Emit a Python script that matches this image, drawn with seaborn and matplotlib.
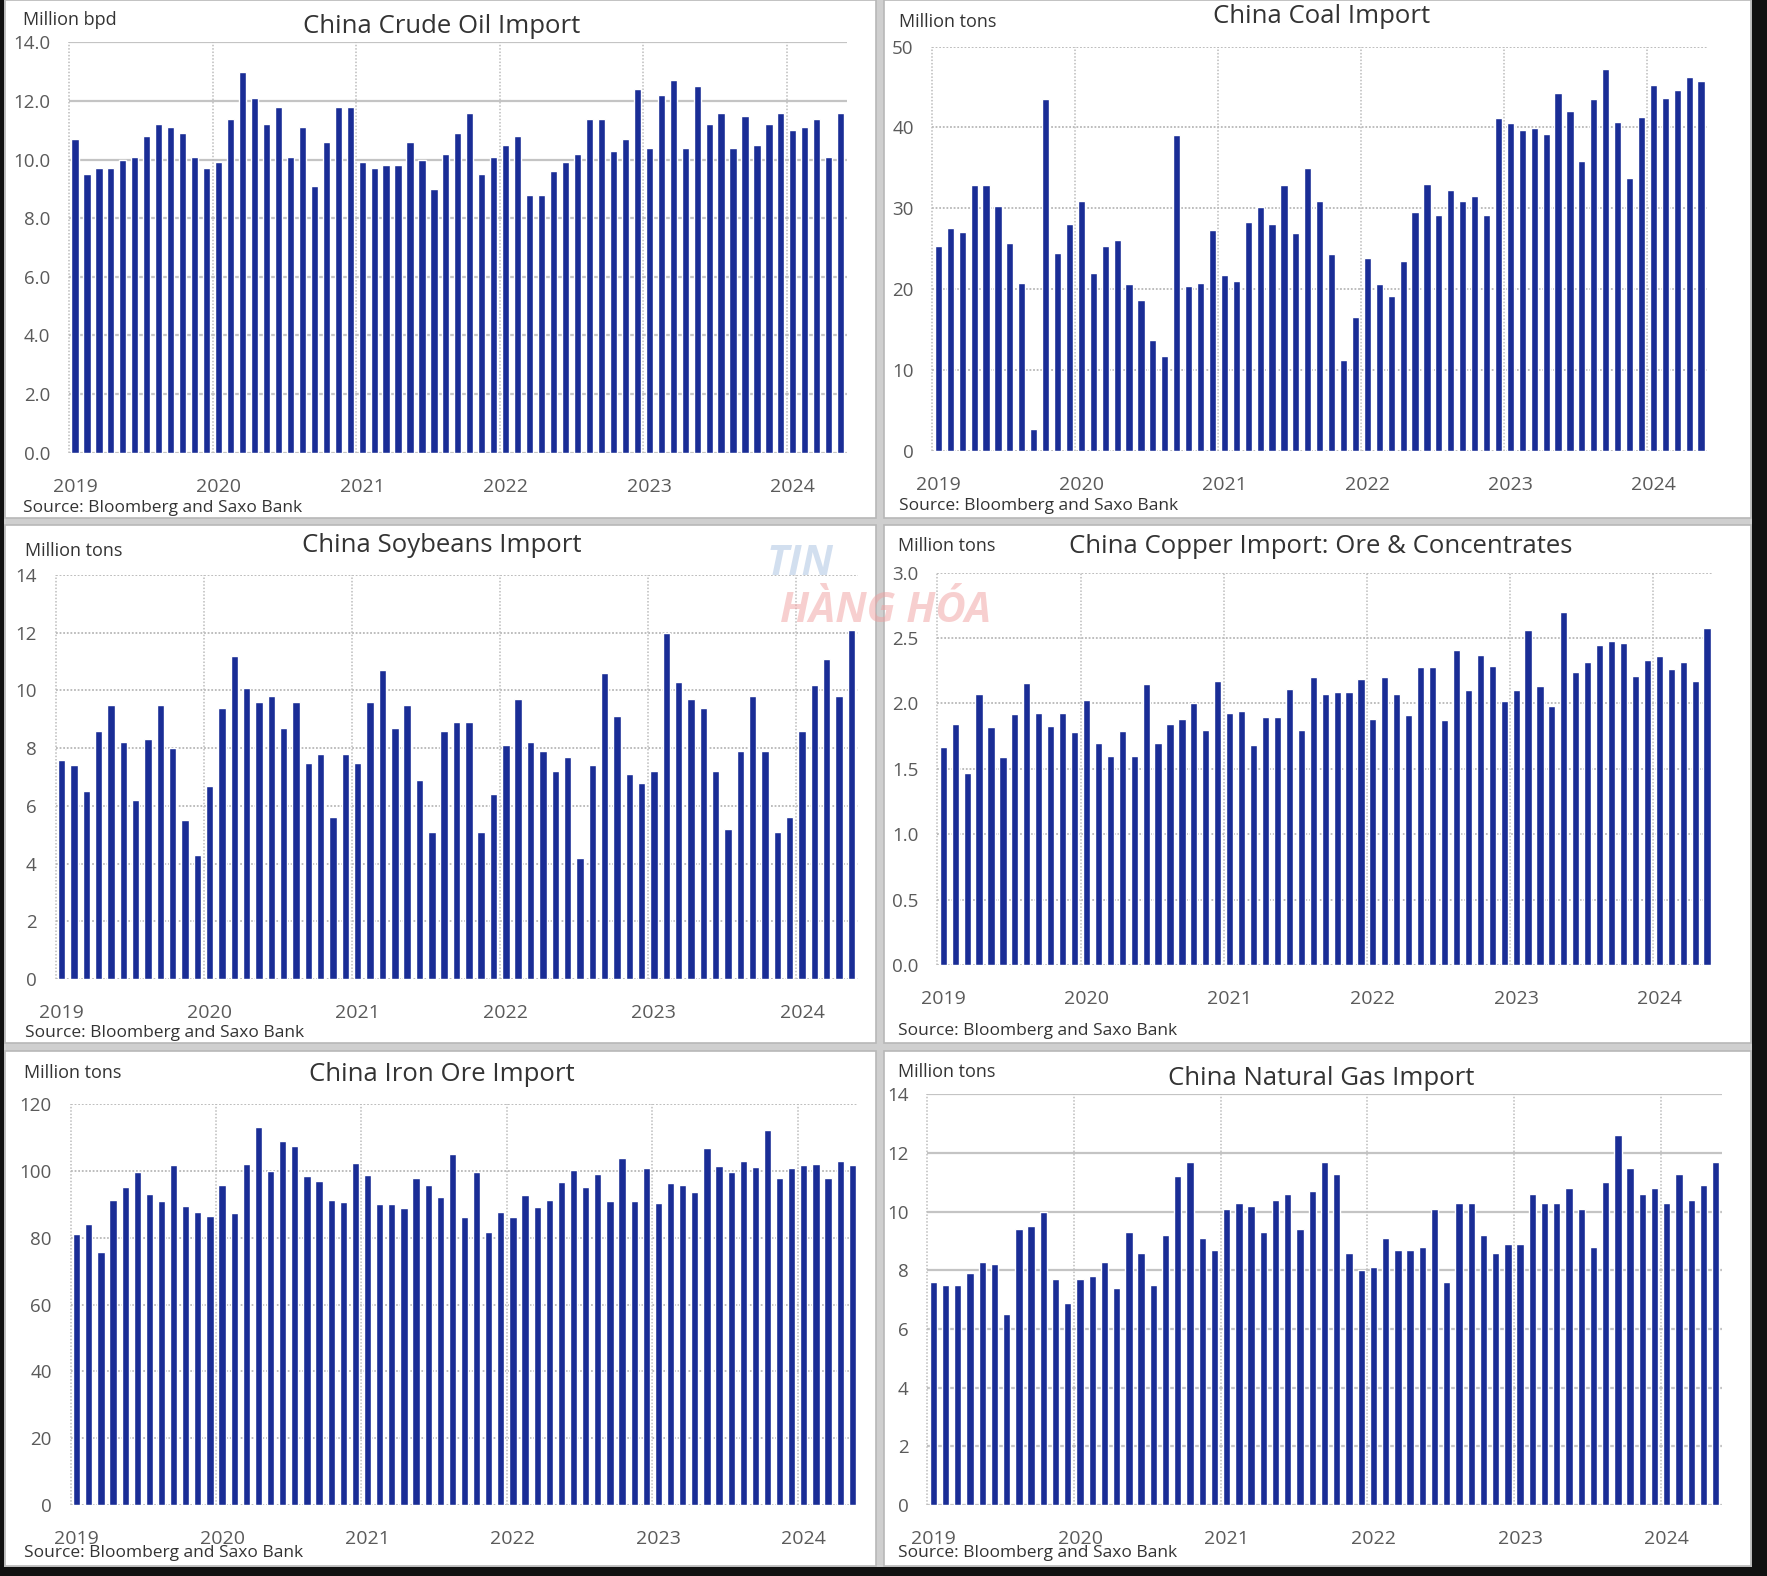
import matplotlib
matplotlib.use("Agg")
import matplotlib.pyplot as plt
import numpy as np
import pandas as pd
import seaborn as sns
from matplotlib.patches import Rectangle

W, H = 1767, 1576
BAR = "#1a2d96"
TEXT = "#333333"
TICK = "#5a5a5a"

# monthly categories Jan 2019 .. May 2024
MONTHS = pd.period_range("2019-01", "2024-05", freq="M").strftime("%Y-%m").tolist()
YEARS = ["2019", "2020", "2021", "2022", "2023", "2024"]
SOURCE = "Source: Bloomberg and Saxo Bank"

CRUDE = [10.7, 9.5, 9.7, 9.7, 10.0, 10.1, 10.8, 11.2, 11.1, 10.9, 10.1, 9.7,
         9.9, 11.4, 13.0, 12.1, 11.2, 11.8, 10.1, 11.1, 9.1, 10.6, 11.8, 11.8,
         9.9, 9.7, 9.8, 9.8, 10.6, 10.0, 9.0, 10.2, 10.9, 11.6, 9.5, 10.1,
         10.5, 10.8, 8.8, 8.8, 9.6, 9.9, 10.2, 11.4, 11.4, 10.3, 10.7, 12.4,
         10.4, 12.2, 12.7, 10.4, 12.5, 11.2, 11.6, 10.4, 11.5, 10.5, 11.2, 11.6,
         11.0, 11.1, 11.4, 10.1, 11.6]

COAL = [25.3, 27.5, 27.1, 32.9, 32.9, 30.3, 25.7, 20.7, 2.7, 43.5, 24.5, 28.0,
        30.9, 22.0, 25.3, 26.1, 20.6, 18.7, 13.7, 11.7, 39.1, 20.4, 20.7, 27.3,
        21.7, 21.0, 28.3, 30.2, 28.1, 32.9, 26.9, 35.0, 30.9, 24.4, 11.2, 16.5,
        23.8, 20.6, 19.1, 23.5, 29.5, 33.0, 29.2, 32.3, 30.9, 31.5, 29.2, 41.2,
        40.6, 39.7, 39.9, 39.2, 44.3, 42.0, 35.9, 43.5, 47.3, 40.7, 33.7, 41.3,
        45.2, 43.7, 44.6, 46.2, 45.8]

SOYBEANS = [7.6, 7.4, 6.5, 8.6, 9.5, 8.2, 6.2, 8.3, 9.5, 8.0, 5.5, 4.3,
            6.7, 9.4, 11.2, 10.1, 9.6, 9.8, 8.7, 9.6, 7.5, 7.8, 5.6, 7.8,
            7.5, 9.6, 10.7, 8.7, 9.5, 6.9, 5.1, 8.6, 8.9, 8.9, 5.1, 6.4,
            8.1, 9.7, 8.2, 7.9, 7.2, 7.7, 4.2, 7.4, 10.6, 9.1, 7.1, 6.8,
            7.2, 12.0, 10.3, 9.7, 9.4, 7.2, 5.2, 7.9, 9.8, 7.9, 5.1, 5.6,
            8.6, 10.2, 11.1, 9.8, 12.1]

COPPER = [1.67, 1.84, 1.47, 2.07, 1.82, 1.59, 1.92, 2.16, 1.93, 1.83, 1.93, 1.78,
          2.03, 1.70, 1.60, 1.79, 1.60, 2.15, 1.70, 1.84, 1.88, 2.00, 1.80, 2.17,
          1.93, 1.94, 1.68, 1.90, 1.90, 2.11, 1.80, 2.20, 2.07, 2.09, 2.09, 2.19,
          1.88, 2.20, 2.07, 1.91, 2.28, 2.28, 1.87, 2.41, 2.10, 2.37, 2.29, 2.02,
          2.10, 2.56, 2.13, 1.98, 2.70, 2.24, 2.32, 2.45, 2.48, 2.46, 2.21, 2.33,
          2.36, 2.26, 2.32, 2.17, 2.58]

IRON_ORE = [81.1, 84.1, 75.6, 91.3, 95.3, 99.6, 93.1, 91.0, 101.6, 89.6, 87.6, 86.4,
            95.8, 87.4, 102.0, 113.0, 99.9, 109.0, 107.3, 98.6, 97.1, 91.3, 90.6, 102.3,
            98.8, 90.1, 90.1, 89.0, 97.8, 95.8, 92.1, 105.0, 86.2, 99.8, 81.6, 87.6,
            86.2, 92.8, 89.3, 91.3, 96.6, 100.1, 95.3, 99.1, 91.0, 103.8, 91.0, 100.8,
            90.5, 96.5, 95.8, 93.6, 106.8, 101.3, 99.6, 103.0, 101.0, 112.3, 97.8, 100.8,
            101.8, 102.1, 97.8, 103.0, 101.6]

NAT_GAS = [7.6, 7.5, 7.5, 7.9, 8.3, 8.2, 6.5, 9.4, 9.5, 10.0, 7.7, 6.9,
           7.7, 7.8, 8.3, 7.4, 9.3, 8.6, 7.5, 9.2, 11.2, 11.7, 9.1, 8.7,
           10.1, 10.3, 10.2, 9.3, 10.4, 10.6, 9.4, 10.7, 11.7, 11.3, 8.6, 8.0,
           8.1, 9.1, 8.7, 8.7, 8.8, 10.1, 7.6, 10.3, 10.3, 9.2, 8.6, 8.9,
           8.9, 10.6, 10.3, 10.3, 10.8, 10.1, 8.8, 11.0, 12.6, 11.5, 10.6, 10.8,
           10.3, 11.3, 10.4, 10.9, 11.7]

# layout in pixels (x0, x1, y_top, y_bottom of plotting area)
PANELS = [
    dict(title="China Crude Oil Import", unit="Million bpd", values=CRUDE,
         ymax=14, step=2, fmt="{:.1f}", solid=True,
         box=(69, 846.7, 42.3, 452.7), title_xy=(442, 33), unit_xy=(23, 25), src_y=512),
    dict(title="China Coal Import", unit="Million tons", values=COAL,
         ymax=50, step=10, fmt="{:.0f}", solid=False,
         box=(932.4, 1707, 46.7, 450.7), title_xy=(1322, 23), unit_xy=(899, 27), src_y=510),
    dict(title="China Soybeans Import", unit="Million tons", values=SOYBEANS,
         ymax=14, step=2, fmt="{:.0f}", solid=False,
         box=(55.5, 857.5, 575, 979), title_xy=(442, 552), unit_xy=(25, 556), src_y=1037),
    dict(title="China Copper Import: Ore & Concentrates", unit="Million tons", values=COPPER,
         ymax=3.0, step=0.5, fmt="{:.1f}", solid=False,
         box=(937.3, 1713, 572.7, 965), title_xy=(1321, 553), unit_xy=(898, 551), src_y=1035),
    dict(title="China Iron Ore Import", unit="Million tons", values=IRON_ORE,
         ymax=120, step=20, fmt="{:.0f}", solid=False,
         box=(70.6, 858.4, 1104, 1505), title_xy=(442, 1081), unit_xy=(24, 1078), src_y=1557),
    dict(title="China Natural Gas Import", unit="Million tons", values=NAT_GAS,
         ymax=14, step=2, fmt="{:.0f}", solid=True,
         box=(927.2, 1721.8, 1094.3, 1505), title_xy=(1321, 1085), unit_xy=(898, 1077), src_y=1557),
]

# white panel frames (x0, x1, y0, y1)
FRAMES = [(5, 876, 0, 518), (884, 1751, 0, 518),
          (5, 876, 525, 1043), (884, 1751, 525, 1043),
          (5, 876, 1051, 1566), (884, 1751, 1051, 1566)]


def px_rect(x0, x1, y0, y1):
    return [x0 / W, 1 - y1 / H, (x1 - x0) / W, (y1 - y0) / H]


def draw_panel(fig, p):
    x0, x1, y0, y1 = p["box"]
    ax = fig.add_axes(px_rect(x0, x1, y0, y1), zorder=2)
    df = pd.DataFrame({"month": MONTHS, "value": p["values"]})
    sns.barplot(data=df, x="month", y="value", ax=ax, color=BAR,
                saturation=1, width=0.6, zorder=3)
    n = len(MONTHS)
    ax.set_xlim(-0.5, n - 0.5)
    ax.set_ylim(0, p["ymax"])
    ax.set_facecolor("none")
    for s in ax.spines.values():
        s.set_visible(False)

    yt = np.arange(0, p["ymax"] + p["step"] / 2, p["step"])
    ax.set_yticks(yt)
    ax.set_yticklabels([p["fmt"].format(v) for v in yt])
    ax.set_xticks(range(0, n, 12))
    ax.set_xticklabels(YEARS)
    ax.tick_params(axis="y", length=0, pad=13.5, labelsize=13.5, labelcolor=TICK)
    ax.tick_params(axis="x", length=0, pad=18, labelsize=14, labelcolor=TICK)
    ax.set_xlabel("")
    ax.set_ylabel("")

    ax.set_axisbelow(True)
    ax.xaxis.grid(False)
    if p["solid"]:
        ax.yaxis.grid(True, color="#c4c4c4", lw=1.6, ls="-")
    else:
        ax.yaxis.grid(True, color="#b8b8b8", lw=1.3, ls=(0, (1, 1)))
    for k in range(0, n, 12):
        ax.axvline(k - 0.5, color="#bcbcbc", lw=1.1, ls=(0, (1, 1.2)),
                   zorder=1, clip_on=False)

    tx, ty = p["title_xy"]
    fig.text(tx / W, 1 - ty / H, p["title"], ha="center", va="baseline",
             fontsize=18.5, color=TEXT, zorder=3)
    ux, uy = p["unit_xy"]
    fig.text(ux / W, 1 - uy / H, p["unit"], ha="left", va="baseline",
             fontsize=13, color=TEXT, zorder=3)
    fig.text(ux / W, 1 - p["src_y"] / H, SOURCE, ha="left", va="baseline",
             fontsize=12.5, color=TEXT, zorder=3)


sns.set_style("white")
plt.rcParams["font.family"] = ["Open Sans", "DejaVu Sans"]

fig = plt.figure(figsize=(W / 100, H / 100), dpi=100, facecolor="#cfcfcf")

# black strips around the screenshot
for (x0, x1, y0, y1) in [(0, 4, 0, H), (1752, W, 0, H), (0, W, 1567, H)]:
    fig.patches.append(Rectangle((x0 / W, 1 - y1 / H), (x1 - x0) / W, (y1 - y0) / H,
                                 transform=fig.transFigure, facecolor="#111111",
                                 edgecolor="none", zorder=-2))
for (x0, x1, y0, y1) in FRAMES:
    fig.patches.append(Rectangle((x0 / W, 1 - y1 / H), (x1 - x0) / W, (y1 - y0) / H,
                                 transform=fig.transFigure, facecolor="white",
                                 edgecolor="#b8b8b8", lw=1.2, zorder=-1))

for p in PANELS:
    draw_panel(fig, p)

# faint site watermark
fig.text(800 / W, 1 - 575 / H, "TIN", fontsize=30, fontweight="bold", style="italic",
         color="#9db8dd", alpha=0.45, ha="center", va="baseline", zorder=5)
fig.text(885 / W, 1 - 622 / H, "HÀNG HÓA", fontsize=30, fontweight="bold", style="italic",
         color="#f0a0a0", alpha=0.5, ha="center", va="baseline", zorder=5)

fig.savefig("out.png", dpi=100, facecolor=fig.get_facecolor())
